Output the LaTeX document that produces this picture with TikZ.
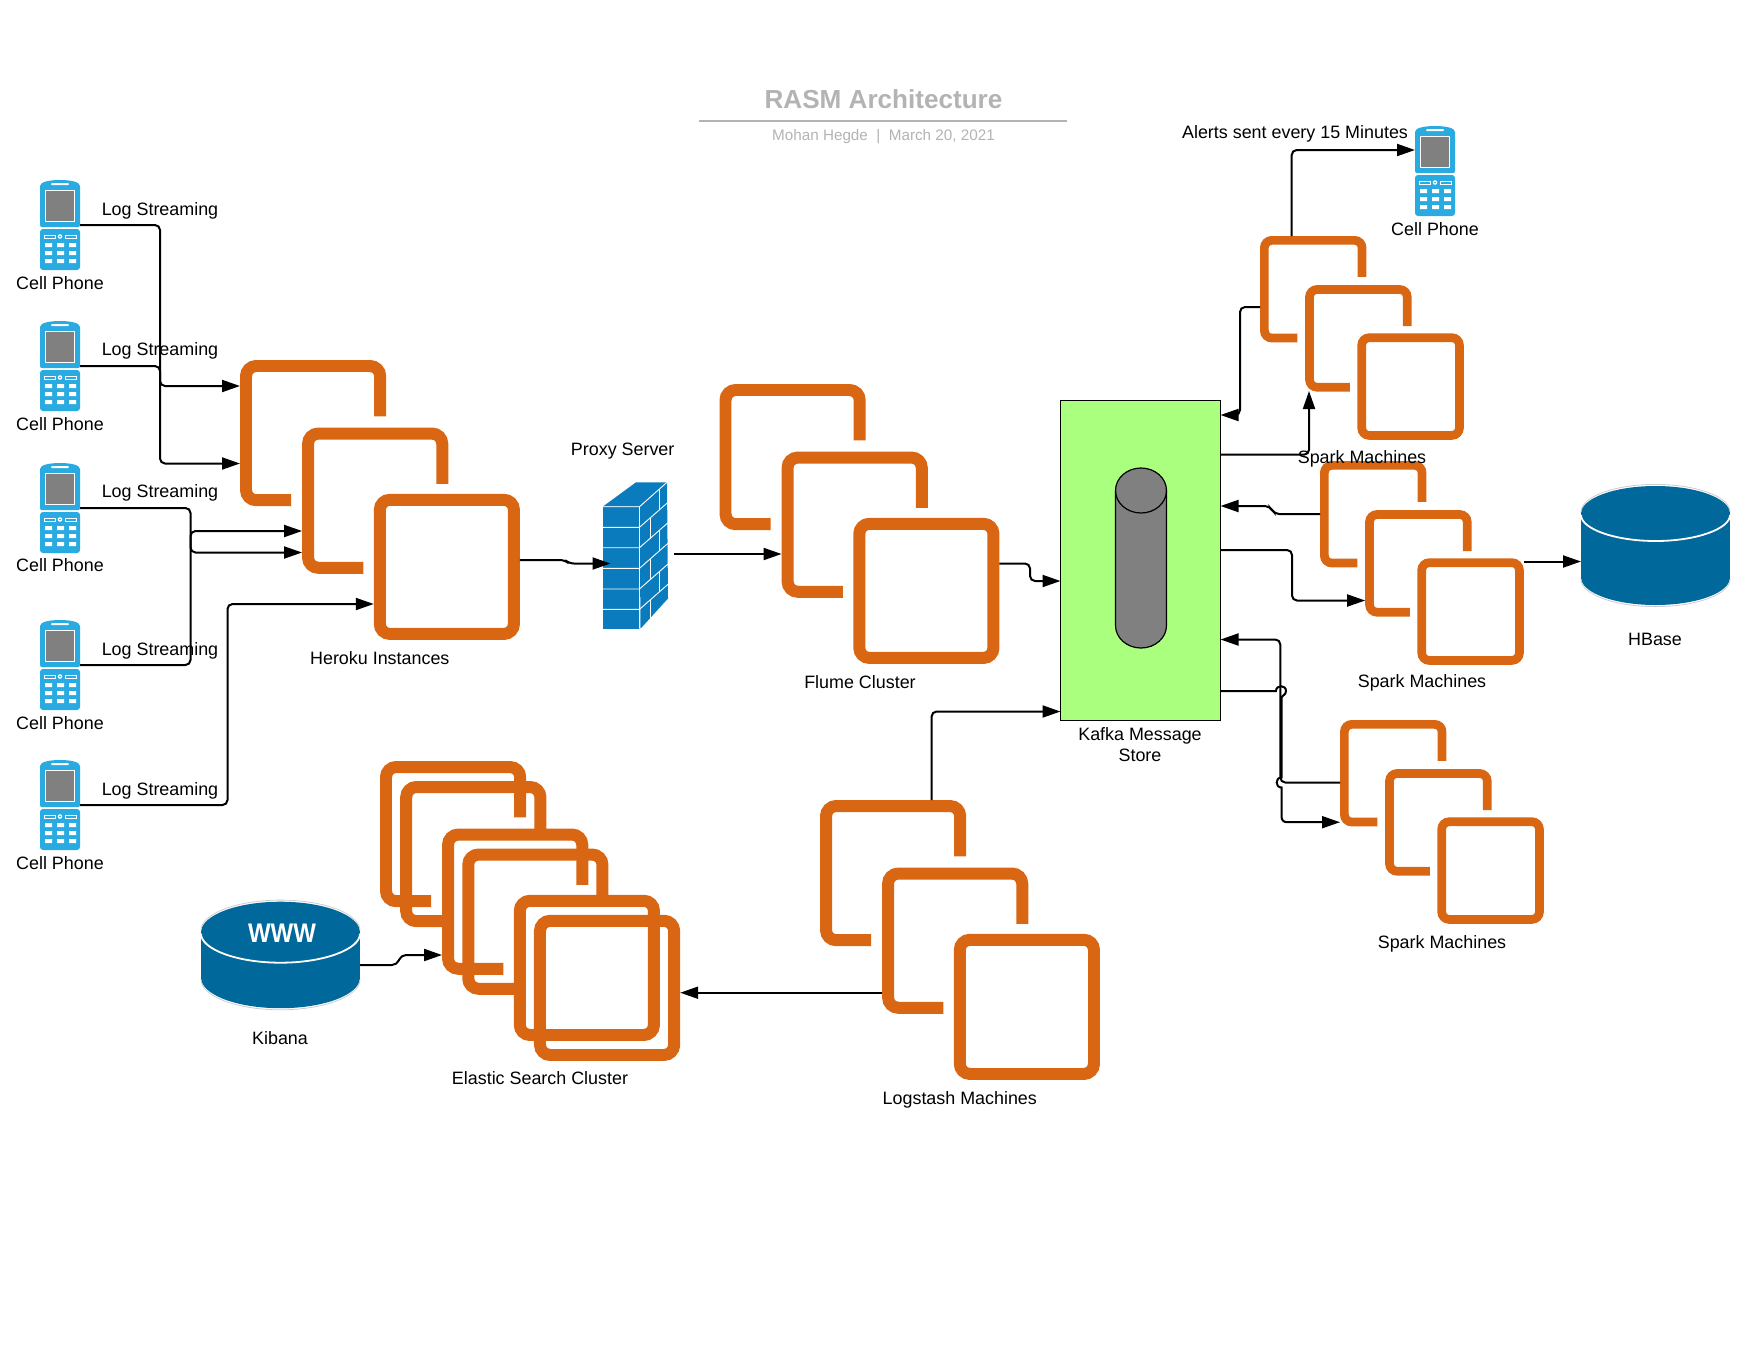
\documentclass[tikz,border=0pt]{standalone}
\usepackage{fontspec}
\setmainfont{Liberation Sans}
\usetikzlibrary{arrows.meta}
\definecolor{awsorange}{HTML}{D86613}
\definecolor{phoneblue}{HTML}{29ABE2}
\definecolor{wallblue}{HTML}{0A7BBD}
\definecolor{dbblue}{HTML}{00689A}
\definecolor{kafkagreen}{HTML}{ABFF7F}
\definecolor{titlegray}{HTML}{B3B3B3}
\tikzset{
  lbl/.style={inner sep=0pt,font=\fontsize{17.9}{21}\selectfont,align=center},
  conn/.style={draw=black,line width=2pt,rounded corners=5pt},
  arr/.style={conn,-{Triangle[length=18pt,width=12pt]}},
  orangeline/.style={draw=awsorange,rounded corners=#1},
  anchorbox/.style={inner sep=0pt,outer sep=0pt,anchor=north west}
}
% one open square of a stack
\newcommand{\awsopen}[4]{% x y S bottomstub
  \pgfmathsetmacro\oi{.041*#3}
  \draw[orangeline=.07*#3 pt,line width=.082*#3 pt]
    ({#1+#3-\oi},{#2+.385*#3}) -- ({#1+#3-\oi},{#2+\oi}) -- ({#1+\oi},{#2+\oi})
    -- ({#1+\oi},{#2+#3-\oi}) -- ({#1+#4*#3},{#2+#3-\oi});
}
\newcommand{\awsstack}[4]{% name x y S
  \node[anchorbox,minimum size=#4 pt] (#1-a) at (#2,#3) {};
  \node[anchorbox,minimum size=#4 pt] (#1-b) at ({#2+.4245*#4},{#3+.462*#4}) {};
  \node[anchorbox,minimum size=#4 pt] (#1-c) at ({#2+.915*#4},{#3+.915*#4}) {};
  \awsopen{#2}{#3}{#4}{.35}
  \awsopen{(#2+.4245*#4)}{(#3+.462*#4)}{#4}{.42}
  \pgfmathsetmacro\oi{.041*#4}
  \draw[orangeline=.07*#4 pt,line width=.082*#4 pt]
    ({#2+.915*#4+\oi},{#3+.915*#4+\oi}) rectangle ({#2+1.915*#4-\oi},{#3+1.915*#4-\oi});
}
\newcommand{\phone}[3]{% name x y
  \node[anchorbox,minimum width=40pt,minimum height=90pt] (#1) at (#2,#3) {};
  \begin{scope}[shift={(#2,#3)}]
    \fill[phoneblue] (0,45) -- (0,6) .. controls (0,2) and (9,0) .. (20,0)
      .. controls (31,0) and (40,2) .. (40,6) -- (40,45)
      .. controls (40,46.5) and (39,47) .. (38,47) -- (2,47) .. controls (1,47) and (0,46.5) .. (0,45) -- cycle;
    \fill[phoneblue,rounded corners=3pt] (0,49) rectangle (40,90);
    \fill[white,rounded corners=1pt] (11,3) rectangle (29,5.2);
    \draw[white,fill=gray,line width=.9pt] (5.5,10) rectangle (34.5,41);
    \draw[white,line width=.8pt] (4.5,55) rectangle (15,58) (25.5,55) rectangle (36,58);
    \fill[white] (20,56.5) circle (2.3pt);
    \fill[phoneblue] (20,56.5) circle (.8pt);
    \foreach \ry in {63,71,79}{
      \fill[white] (5,\ry) rectangle (12,{\ry+4}) (17,\ry) rectangle (24,{\ry+4}) (29,\ry) rectangle (36,{\ry+4});
    }
  \end{scope}
}
\newcommand{\dbcyl}[6]{% name x y w h ry
  \node[anchorbox,minimum width=#4 pt,minimum height=#5 pt] (#1) at (#2,#3) {};
  \pgfmathsetmacro\rx{#4/2}
  \pgfmathsetmacro\cx{#2+#4/2}
  \pgfmathsetmacro\ya{#3+#6}
  \pgfmathsetmacro\yb{#3+#5-#6}
  \pgfmathsetmacro\kx{.5523*#4/2}
  \pgfmathsetmacro\ky{.5523*#6}
  \pgfmathsetmacro\yc{\ya-1.6}
  \pgfmathsetmacro\yd{\yb+1.6}
  \fill[dbblue] (#2,\ya) rectangle ({#2+#4},\yb);
  \fill[dbblue] (\cx,\ya) ellipse [x radius=\rx pt,y radius=#6 pt];
  \fill[dbblue] (\cx,\yb) ellipse [x radius=\rx pt,y radius=#6 pt];
  \draw[white,line width=1.8pt] (#2,{\ya+1.5}) .. controls (#2,{\ya+\ky}) and ({\cx-\kx},{\ya+#6}) .. (\cx,{\ya+#6})
     .. controls ({\cx+\kx},{\ya+#6}) and ({#2+#4},{\ya+\ky}) .. ({#2+#4},{\ya+1.5});
  \draw[gray!40,line width=.8pt] (#2,\yc) .. controls (#2,{\yc-\ky}) and ({\cx-\kx},{\yc-#6}) .. (\cx,{\yc-#6})
     .. controls ({\cx+\kx},{\yc-#6}) and ({#2+#4},{\yc-\ky}) .. ({#2+#4},\yc);
  \draw[gray!40,line width=.8pt] (#2,\yd) .. controls (#2,{\yd+\ky}) and ({\cx-\kx},{\yd+#6}) .. (\cx,{\yd+#6})
     .. controls ({\cx+\kx},{\yd+#6}) and ({#2+#4},{\yd+\ky}) .. ({#2+#4},\yd);
}
\begin{document}
\begin{tikzpicture}[x=1pt,y=-1pt]
\useasboundingbox (0,0) rectangle (1760,1360);
% title
\node[inner sep=0pt,text=titlegray,font=\fontsize{26.1}{30}\selectfont\bfseries] (title) at (883.5,99) {RASM Architecture};
\coordinate (ruleL) at (698.5,120.8);
\coordinate (ruleR) at (1067,120.8);
\draw[titlegray,line width=2pt] (ruleL) -- (ruleR);
\node[inner sep=0pt,text=titlegray,font=\fontsize{15.25}{18}\selectfont] (subtitle) at (883.5,136.5) {Mohan Hegde\ \ |\ \ March 20, 2021};
% phones
\phone{ph1}{40}{180}
\phone{ph2}{40}{321}
\phone{ph3}{40}{463}
\phone{ph4}{40}{620}
\phone{ph5}{40}{760}
\phone{ph6}{1415}{126}
% stacks
\awsstack{heroku}{240}{360}{146.2}
\awsstack{flume}{719.5}{384}{146.2}
\awsstack{logstash}{820}{800}{146.2}
\awsstack{elasticA}{380}{761}{146.2}
\awsstack{elasticB}{400.2}{781}{146.2}
\awsstack{sparkA}{1260}{236}{106.4}
\awsstack{sparkB}{1320}{461}{106.4}
\awsstack{sparkC}{1340}{720}{106.4}
% firewall
\node[anchorbox,minimum width=71pt,minimum height=147pt] (fw) at (603,482) {};
\fill[wallblue] (602.7,506.7) -- (636,482.3) -- (667,482.3) -- (639.5,506.7) -- cycle;
\fill[wallblue] (639.5,506.7) -- (667,482.3) -- (668,598.5) -- (640.5,628.7) -- cycle;
\fill[wallblue] (602.7,506.7) rectangle (639.5,628.7);
\draw[white,line width=.9pt] (602.7,506.7) -- (639.5,506.7) -- (667,482.3) (639.5,506.7) -- (639.5,628.7);
\foreach \wy in {527.3,547.7,568.3,589,609.3}{
  \draw[white,line width=.9pt] (602.7,\wy) -- (639.5,\wy) -- (668,{\wy-25});
}
\foreach \wy/\wx in {506.7/659,527.3/650,547.7/659,568.3/650,589/659,609.3/650}{
  \draw[white,line width=.9pt] (\wx,{\wy-(\wx-639.5)*.875}) -- (\wx,{\wy+20.5-(\wx-639.5)*.875});
}
% kafka
\node[anchorbox,draw=black,line width=1.2pt,fill=kafkagreen,minimum width=160pt,minimum height=320pt] (kafka) at (1060.5,400.5) {};
\node[anchorbox,minimum width=51pt,minimum height=180pt] (drum) at (1115.5,468) {};
\draw[black,fill=gray,line width=1.2pt] (1115.5,490.5) .. controls (1115.5,478) and (1127,468) .. (1141,468)
  .. controls (1155,468) and (1166.5,478) .. (1166.5,490.5) -- (1166.5,625.5)
  .. controls (1166.5,638) and (1155,648) .. (1141,648)
  .. controls (1127,648) and (1115.5,638) .. (1115.5,625.5) -- cycle;
\draw[black,line width=1.2pt] (1115.5,490.5) .. controls (1115.5,503) and (1127,513) .. (1141,513)
  .. controls (1155,513) and (1166.5,503) .. (1166.5,490.5);
% cylinders
\dbcyl{kibana}{201}{901.7}{159}{106.5}{30.5}
\dbcyl{hbase}{1581}{486}{149}{119}{27.5}
\node[inner sep=0pt,text=white,font=\fontsize{24}{28}\selectfont\bfseries] (www) at (282,933) {\scalebox{1}[1.12]{WWW}};
% connectors: phones to heroku
\draw[arr] (ph1.east) -- (160,225) -- (160,386) -- (heroku-a.west |- 0,386);
\draw[arr] (ph2.east) -- (160,366) -- (160,463.5) -- (heroku-a.west |- 0,463.5);
\draw[arr] (ph3.east) -- (190.5,508) -- (190.5,552.5) -- (heroku-b.west |- 0,552.5);
\draw[arr] (ph4.east) -- (190.5,665) -- (190.5,531) -- (heroku-b.west |- 0,531);
\draw[arr] (ph5.east) -- (227.5,805) -- (227.5,604) -- (heroku-c.west |- 0,604);
% pipeline
\draw[arr] (heroku-c.east |- 0,560) -- (565,560) -- (569,563.5) -- (610.5,563.5);
\draw[arr,rounded corners=0pt] (fw.east |- 0,554) -- (flume-b.west |- 0,554);
\draw[arr] (flume-c.east |- 0,563.5) -- (1030,563.5) -- (1030,581) -- (kafka.west |- 0,581);
\draw[arr] (logstash-a.north -| 931.6,0) -- (931.6,711.5) -- (kafka.west |- 0,711.5);
\draw[arr,rounded corners=0pt] (logstash-b.west |- 0,992.7) -- (elasticB-c.east |- 0,992.7);
\draw[arr] (kibana.east |- 0,965) -- (397,965) -- (401,955) -- (elasticA-b.west |- 0,955);
% spark
\draw[arr] (sparkA-a.north -| 1291.7,0) -- (1291.7,150) -- (ph6.west |- 0,150);
\draw[arr] (sparkA-a.west |- 0,307) -- (1240,307) -- (1240,415) -- (kafka.east |- 0,415);
\draw[arr] (kafka.east |- 0,454.7) -- (1309,454.7) -- (1309,391);
\draw[arr] (sparkB-a.west |- 0,514) -- (1274,514) -- (1270,506) -- (kafka.east |- 0,506);
\draw[arr] (kafka.east |- 0,550) -- (1292,550) -- (1292,600.5) -- (sparkB-b.west |- 0,600.5);
\draw[arr,rounded corners=0pt] (sparkB-c.east |- 0,561.5) -- (hbase.west |- 0,561.5);
\draw[arr] (sparkC-a.west |- 0,782.5) -- (1280.3,782.5) -- (1280.3,639.5) -- (kafka.east |- 0,639.5);
\draw[arr,rounded corners=0pt] (kafka.east |- 0,691) -- (1276,691)
   .. controls (1276,684.6) and (1286,684.6) .. (1286,691)
   .. controls (1286,695.3) and (1281.5,695.3) .. (1281.5,698)
   -- (1281.5,777.5) .. controls (1275,777.5) and (1275,787.5) .. (1281.5,787.5)
   -- (1281.5,816.5) .. controls (1281.5,820) and (1283.5,822.2) .. (1287,822.2)
   -- (sparkC-a.west |- 0,822.2);
% labels
\node[lbl] (ls1) at (160,211) {Log Streaming};
\node[lbl] (ls2) at (160,351) {Log Streaming};
\node[lbl] (ls3) at (160,493) {Log Streaming};
\node[lbl] (ls4) at (160,651) {Log Streaming};
\node[lbl] (ls5) at (160,791) {Log Streaming};
\node[lbl] (cp1) at (60,282.7) {Cell Phone};
\node[lbl] (cp2) at (60,423.7) {Cell Phone};
\node[lbl] (cp3) at (60,565.5) {Cell Phone};
\node[lbl] (cp4) at (60,723) {Cell Phone};
\node[lbl] (cp5) at (60,863) {Cell Phone};
\node[lbl] (cp6) at (1435,228.7) {Cell Phone};
\node[lbl] (alerts) at (1295,134) {Alerts sent every 15 Minutes};
\node[lbl] (lheroku) at (379.8,657.7) {Heroku Instances};
\node[lbl] (lproxy) at (622.7,451) {Proxy Server};
\node[lbl] (lflume) at (860,682.3) {Flume Cluster};
\node[lbl] (lkafka) at (1140,744.5) {Kafka Message\\Store};
\node[lbl] (lsparkA) at (1362,459) {Spark Machines};
\node[lbl] (lsparkB) at (1422,683.3) {Spark Machines};
\node[lbl] (lsparkC) at (1442,943.7) {Spark Machines};
\node[lbl] (lhbase) at (1655,639) {HBase};
\node[lbl] (lkibana) at (280,1038) {Kibana};
\node[lbl] (lelastic) at (540,1078.5) {Elastic Search Cluster};
\node[lbl] (llogstash) at (959.8,1099.7) {Logstash Machines};
\end{tikzpicture}
\end{document}
